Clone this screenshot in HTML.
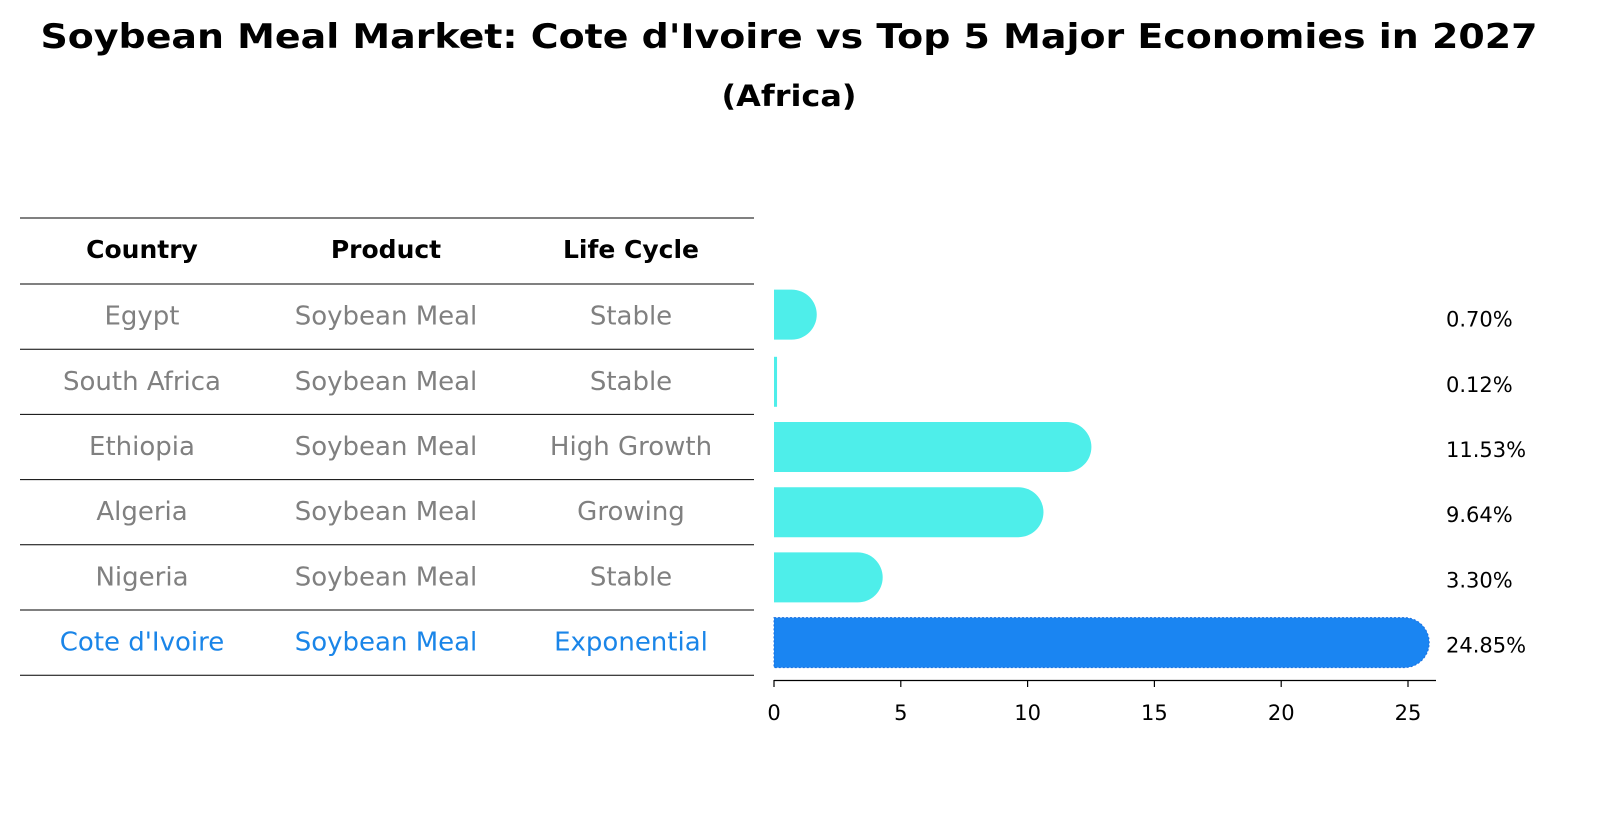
<!DOCTYPE html>
<html><head><meta charset="utf-8"><style>
html,body{margin:0;padding:0;background:#fff;overflow:hidden;width:1604px;height:823px}
svg{display:block}
svg text{font-family:"DejaVu Sans","Liberation Sans",sans-serif}
</style></head><body>
<svg width="1604" height="823" viewBox="0 0 1604 823">
<text x="789" y="48" text-anchor="middle" font-size="34" font-weight="bold" textLength="1497" lengthAdjust="spacingAndGlyphs">Soybean Meal Market: Cote d'Ivoire vs Top 5 Major Economies in 2027</text>
<text x="789" y="106" text-anchor="middle" font-size="29" font-weight="bold" textLength="135" lengthAdjust="spacingAndGlyphs">(Africa)</text>
<g id="table"></g>
<g id="bars"></g>
<g id="axis"></g>
</svg>
<script>
const countries=["Egypt","South Africa","Ethiopia","Algeria","Nigeria","Cote d'Ivoire"];
const products=["Soybean Meal","Soybean Meal","Soybean Meal","Soybean Meal","Soybean Meal","Soybean Meal"];
const lifecycles=["Stable","Stable","High Growth","Growing","Stable","Exponential"];
const values=[0.70,0.12,11.53,9.64,3.30,24.85];
const ticks=[0,5,10,15,20,25];
const NS="http://www.w3.org/2000/svg";
function mk(t,a,p,txt){const e=document.createElementNS(NS,t);for(const k in a)e.setAttribute(k,a[k]);if(txt!==undefined)e.textContent=txt;p.appendChild(e);return e;}
const x0=774,sc=(1408-774)/25;
function xs(v){return x0+v*sc;}
const rowTop=284,rowH=65.2;
function yc(i){return rowTop+rowH*i+rowH/2;}
const tbl=document.getElementById('table');
const colX=[142,386,631];
const heads=["Country","Product","Life Cycle"];
heads.forEach((h,j)=>{const t=mk('text',{x:colX[j],y:258,'text-anchor':'middle','font-size':'25','font-weight':'bold'},tbl,h);
});
for(let k=0;k<=countries.length+1;k++){const y=k==0?218:rowTop+rowH*(k-1);
const l=mk('line',{x1:20,x2:754,y1:y,y2:y,stroke:'#000','stroke-width':1},tbl);
}
countries.forEach((c,i)=>{const col=i==countries.length-1?'#1a85e8':'#808080';
[c,products[i],lifecycles[i]].forEach((s,j)=>{const t=mk('text',{x:colX[j],y:yc(i)+8,'text-anchor':'middle','font-size':'26',fill:col},tbl,s);
});});
const bars=document.getElementById('bars');
const bh=50,r=25;
values.forEach((v,i)=>{const hl=i==values.length-1;const col=hl?'#1a85f2':'#4eeeea';
const y=yc(i)-bh/2+(i==0?-2:0);const xe=xs(v);let d;
if(v*sc<6){d=`M${x0},${y}H${xe}V${y+bh}H${x0}Z`;}
else d=`M${x0},${y}H${xe}A${r},${r} 0 0 1 ${xe},${y+bh}H${x0}Z`;
const p=mk('path',{d:d,fill:col},bars);
if(hl){p.setAttribute('stroke','#1a6fe0');p.setAttribute('stroke-dasharray','2,2');}


const t=mk('text',{x:1446,y:yc(i)+10,'font-size':'21'},bars,v.toFixed(2)+'%');
});
const ax=document.getElementById('axis');
const al=mk('line',{x1:x0,x2:1436,y1:680.5,y2:680.5,stroke:'#000','stroke-width':1.2},ax);

ticks.forEach(tk=>{const x=xs(tk);
const l=mk('line',{x1:x,x2:x,y1:680,y2:687,stroke:'#000','stroke-width':1.2},ax);

const t=mk('text',{x:x,y:720,'text-anchor':'middle','font-size':'21'},ax,String(tk));
});
</script>
</body></html>
